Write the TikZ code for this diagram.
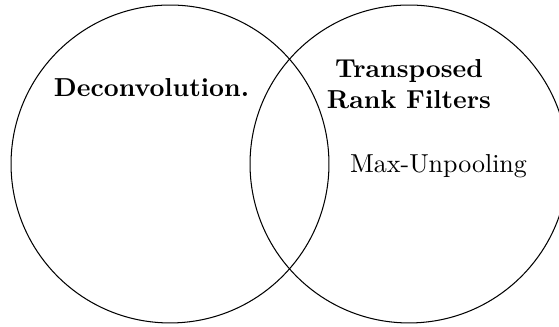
\documentclass[tikz,border=0pt]{standalone}
\usepackage{tikz}
\tikzset{
  setcircle/.style={circle,draw,minimum size=122.4pt,inner sep=0pt},
  setname/.style={font=\bfseries,align=center,anchor=base},
  setitem/.style={anchor=base},
}

\begin{document}
\begin{tikzpicture}[x=0.385pt,y=-0.385pt]
  \useasboundingbox (0,0) rectangle (559,327);
  % the two sets
  \node[setcircle] (deconv) at (170,164) {};
  \node[setcircle] (rank) at (409,164) {};
  % names and members
  \node[setname] (deconvname) at (151.5,97) {Deconvolution.};
  \node[setname] (rankname) at (409,109) {Transposed\\Rank Filters};
  \node[setitem] (unpool) at (438.5,173) {Max-Unpooling};
\end{tikzpicture}
\end{document}
